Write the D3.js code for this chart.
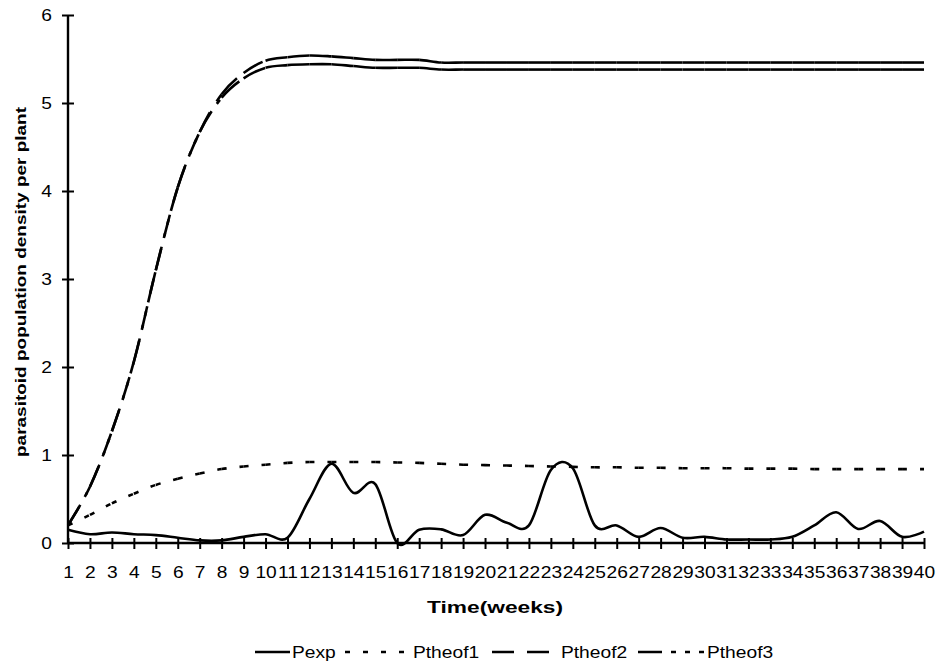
<!DOCTYPE html>
<html>
<head>
<meta charset="utf-8">
<script src="https://cdn.jsdelivr.net/npm/d3@7"></script>
<style>
  html, body { margin: 0; padding: 0; background: #fff; }
  svg { display: block; }
  text { font-family: "Liberation Sans", Arial, sans-serif; fill: #000; }
</style>
</head>
<body>
<svg id="chart" width="938" height="667"></svg>
<script>
const weeks = d3.range(1, 41);
const yTicks = [0, 1, 2, 3, 4, 5, 6];
const seriesNames = ["Pexp", "Ptheof1", "Ptheof2", "Ptheof3"];

const Pexp = [0.15,0.10,0.12,0.10,0.09,0.06,0.03,0.03,0.07,0.10,
              0.06,0.50,0.90,0.57,0.67,0.00,0.15,0.155,0.09,0.32,
              0.23,0.20,0.83,0.85,0.20,0.20,0.07,0.17,0.06,0.07,
              0.04,0.04,0.04,0.07,0.20,0.35,0.16,0.25,0.07,0.13];
const Ptheof1 = [0.20,0.32,0.45,0.56,0.66,0.73,0.79,0.84,0.87,0.89,
                 0.91,0.92,0.92,0.92,0.92,0.915,0.91,0.90,0.89,0.885,
                 0.88,0.875,0.87,0.865,0.86,0.86,0.855,0.855,0.85,0.85,
                 0.85,0.845,0.845,0.845,0.84,0.84,0.84,0.84,0.84,0.84];
const Ptheof2 = [0.20,0.64,1.27,2.06,3.10,4.04,4.67,5.10,5.34,5.48,
                 5.52,5.54,5.53,5.51,5.49,5.49,5.49,5.46,5.46,5.46,
                 5.46,5.46,5.46,5.46,5.46,5.46,5.46,5.46,5.46,5.46,
                 5.46,5.46,5.46,5.46,5.46,5.46,5.46,5.46,5.46,5.46];
const Ptheof3 = [0.20,0.64,1.27,2.06,3.10,4.04,4.67,5.06,5.28,5.40,
                 5.43,5.44,5.44,5.42,5.40,5.40,5.40,5.38,5.38,5.38,
                 5.38,5.38,5.38,5.38,5.38,5.38,5.38,5.38,5.38,5.38,
                 5.38,5.38,5.38,5.38,5.38,5.38,5.38,5.38,5.38,5.38];

const svg = d3.select("#chart");
const x = d3.scaleLinear().domain([1, 40]).range([68, 924]);
const y = d3.scaleLinear().domain([0, 6]).range([543, 15]);
const SX = 1.2; // horizontal stretch of the original glyphs

const styles = {
  Pexp: null,
  Ptheof1: "5,13",
  Ptheof2: "22,13",
  Ptheof3: "24,9,5,9,5,9"
};
const data = { Pexp, Ptheof1, Ptheof2, Ptheof3 };

// Excel-like smoothed line: uniform Catmull-Rom, drawn segment by segment
function segments(vals) {
  const p = vals.map((v, i) => [x(weeks[i]), y(v)]);
  const n = p.length;
  const segs = [];
  for (let i = 0; i < n - 1; i++) {
    const p0 = p[Math.max(i - 1, 0)], p1 = p[i], p2 = p[i + 1], p3 = p[Math.min(i + 2, n - 1)];
    const c1 = [p1[0] + (p2[0] - p0[0]) / 6, p1[1] + (p2[1] - p0[1]) / 6];
    const c2 = [p2[0] - (p3[0] - p1[0]) / 6, p2[1] - (p3[1] - p1[1]) / 6];
    const path = d3.path();
    path.moveTo(p1[0], p1[1]);
    path.bezierCurveTo(c1[0], c1[1], c2[0], c2[1], p2[0], p2[1]);
    segs.push(path.toString());
  }
  return segs;
}

const gLines = svg.append("g");
["Ptheof3", "Ptheof2", "Ptheof1"].forEach(name => {
  gLines.append("g").selectAll("path")
    .data(segments(data[name]))
    .join("path")
    .attr("d", d => d)
    .attr("fill", "none")
    .attr("stroke", "#000")
    .attr("stroke-width", 2.6)
    .attr("stroke-dasharray", styles[name]);
});
gLines.append("path")
  .datum(Pexp)
  .attr("d", d3.line().x((d, i) => x(weeks[i])).y(d => y(d)).curve(d3.curveCardinal.tension(0)))
  .attr("fill", "none")
  .attr("stroke", "#000")
  .attr("stroke-width", 2.6)
  .attr("stroke-linejoin", "round");

// Y axis
const yAxis = d3.axisLeft(y).tickValues(yTicks).tickSize(0).tickPadding(0).tickFormat(d3.format("d"));
const gy = svg.append("g").attr("transform", "translate(68,0)").call(yAxis);
gy.select(".domain").remove();
gy.selectAll(".tick text")
  .attr("x", null).attr("text-anchor", "end")
  .attr("font-size", 16).attr("font-family", "Liberation Sans, Arial, sans-serif")
  .attr("transform", `translate(-16,0) scale(${SX},1)`);
gy.selectAll(".tick").append("line").attr("x1", -6).attr("x2", 6).attr("stroke", "#000").attr("stroke-width", 2);
gy.append("line").attr("x1", 0).attr("x2", 0).attr("y1", y(6)).attr("y2", y(0)).attr("stroke", "#000").attr("stroke-width", 2.4);

// X axis
const xAxis = d3.axisBottom(x).tickValues(weeks).tickSize(0).tickPadding(24).tickFormat(d3.format("d"));
const gx = svg.append("g").attr("transform", "translate(0,543)").call(xAxis);
gx.select(".domain").remove();
gx.selectAll(".tick text")
  .attr("font-size", 16).attr("font-family", "Liberation Sans, Arial, sans-serif")
  .attr("transform", `scale(${SX},1)`);
gx.selectAll(".tick").append("line").attr("y1", -5).attr("y2", 6).attr("stroke", "#000").attr("stroke-width", 2);
gx.append("line").attr("x1", x(1)).attr("x2", x(40)).attr("y1", 0).attr("y2", 0).attr("stroke", "#000").attr("stroke-width", 2.4);

// Axis titles
svg.append("text")
  .attr("x", 495).attr("y", 613)
  .attr("text-anchor", "middle")
  .attr("font-size", 16).attr("font-weight", "bold")
  .attr("textLength", 136).attr("lengthAdjust", "spacingAndGlyphs")
  .text("Time(weeks)");
svg.append("text")
  .attr("transform", "translate(26,282) rotate(-90)")
  .attr("text-anchor", "middle")
  .attr("font-size", 15).attr("font-weight", "bold")
  .attr("textLength", 350).attr("lengthAdjust", "spacingAndGlyphs")
  .text("parasitoid population density per plant");

// Legend
const legendItems = [
  { name: "Pexp", x1: 255, x2: 290, tx: 292 },
  { name: "Ptheof1", x1: 345, x2: 409, tx: 413 },
  { name: "Ptheof2", x1: 492, x2: 549, tx: 561 },
  { name: "Ptheof3", x1: 638, x2: 704, tx: 707 }
];
const gl = svg.append("g");
legendItems.forEach(it => {
  gl.append("line")
    .attr("x1", it.x1).attr("x2", it.x2).attr("y1", 652).attr("y2", 652)
    .attr("stroke", "#000").attr("stroke-width", 2.6)
    .attr("stroke-dasharray", styles[it.name]);
  gl.append("text")
    .attr("transform", `translate(${it.tx},658) scale(${SX},1)`)
    .attr("font-size", 16)
    .text(it.name);
});
</script>
</body>
</html>
